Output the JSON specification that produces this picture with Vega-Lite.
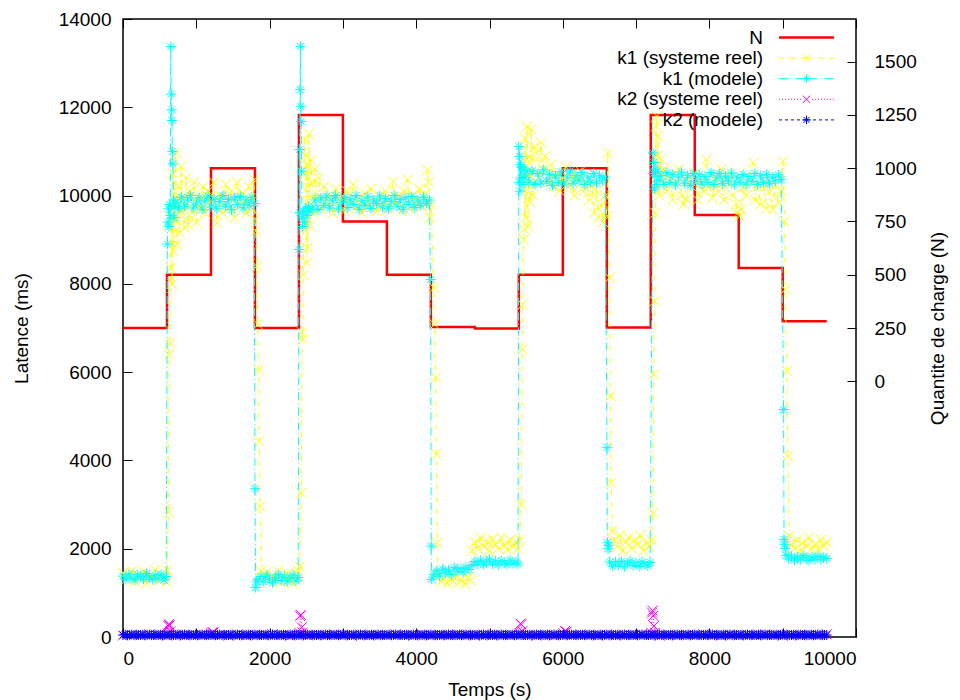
{
  "$schema": "https://vega.github.io/schema/vega-lite/v6.json",
  "width": 733,
  "height": 618,
  "autosize": {"type": "none"},
  "padding": {"left": 123, "top": 19, "right": 104, "bottom": 63},
  "background": "white",
  "config": {
    "font": "Liberation Sans",
    "view": {"stroke": "#000", "strokeWidth": 1.5},
    "axis": {
      "labelFont": "Liberation Sans", "labelFontSize": 19, "labelColor": "#000",
      "titleFont": "Liberation Sans", "titleFontSize": 19, "titleFontWeight": "normal", "titleColor": "#000",
      "grid": false, "domain": false, "tickColor": "#000", "tickSize": -9, "tickWidth": 1, "labelPadding": 21
    }
  },
  "datasets": {
    "N": [{"t":0,"v":250},{"t":600,"v":500},{"t":1200,"v":1000},{"t":1800,"v":250},{"t":2400,"v":1250},{"t":3000,"v":750},{"t":3600,"v":500},{"t":4200,"v":255},{"t":4800,"v":248},{"t":5400,"v":500},{"t":6000,"v":1000},{"t":6600,"v":252},{"t":7200,"v":1250},{"t":7800,"v":780},{"t":8400,"v":532},{"t":9000,"v":282},{"t":9600,"v":282}],
    "k1r": [{"t":0,"v":1450},{"t":40,"v":1300},{"t":80,"v":1380},{"t":120,"v":1500},{"t":160,"v":1250},{"t":200,"v":1400},{"t":240,"v":1330},{"t":280,"v":1480},{"t":320,"v":1220},{"t":360,"v":1390},{"t":400,"v":1350},{"t":440,"v":1520},{"t":480,"v":1280},{"t":520,"v":1420},{"t":560,"v":1360},{"t":590,"v":1240},{"t":605,"v":1500},{"t":620,"v":2830},{"t":630,"v":6400},{"t":640,"v":6650},{"t":650,"v":8360},{"t":660,"v":9500},{"t":670,"v":8000},{"t":680,"v":10500},{"t":690,"v":8740},{"t":700,"v":9800},{"t":720,"v":10970},{"t":735,"v":8900},{"t":750,"v":10200},{"t":772,"v":9155},{"t":790,"v":10660},{"t":810,"v":9600},{"t":840,"v":9270},{"t":860,"v":10400},{"t":886,"v":9340},{"t":910,"v":10100},{"t":940,"v":9500},{"t":970,"v":10300},{"t":1000,"v":9390},{"t":1030,"v":10000},{"t":1060,"v":9700},{"t":1090,"v":10200},{"t":1120,"v":9600},{"t":1160,"v":10100},{"t":1200,"v":9800},{"t":1240,"v":10300},{"t":1280,"v":9380},{"t":1320,"v":10000},{"t":1360,"v":9600},{"t":1400,"v":10250},{"t":1440,"v":9700},{"t":1480,"v":10100},{"t":1520,"v":9500},{"t":1560,"v":10300},{"t":1600,"v":9800},{"t":1640,"v":10050},{"t":1680,"v":9600},{"t":1720,"v":10200},{"t":1760,"v":9700},{"t":1790,"v":10360},{"t":1800,"v":9460},{"t":1812,"v":9200},{"t":1825,"v":8400},{"t":1840,"v":7080},{"t":1850,"v":6045},{"t":1860,"v":4440},{"t":1870,"v":2966},{"t":1885,"v":1500},{"t":1920,"v":1350},{"t":1960,"v":1480},{"t":2000,"v":1260},{"t":2040,"v":1400},{"t":2080,"v":1320},{"t":2120,"v":1500},{"t":2160,"v":1230},{"t":2200,"v":1380},{"t":2240,"v":1440},{"t":2280,"v":1300},{"t":2320,"v":1210},{"t":2360,"v":1420},{"t":2390,"v":1500},{"t":2410,"v":1600},{"t":2432,"v":3270},{"t":2445,"v":6900},{"t":2452,"v":6740},{"t":2460,"v":8200},{"t":2470,"v":10500},{"t":2480,"v":11270},{"t":2490,"v":10900},{"t":2500,"v":8475},{"t":2510,"v":10700},{"t":2520,"v":8815},{"t":2535,"v":11400},{"t":2550,"v":9300},{"t":2565,"v":10800},{"t":2580,"v":10300},{"t":2600,"v":9600},{"t":2620,"v":10600},{"t":2640,"v":9900},{"t":2670,"v":10400},{"t":2700,"v":9700},{"t":2740,"v":10200},{"t":2780,"v":9800},{"t":2820,"v":10000},{"t":2860,"v":9600},{"t":2900,"v":10150},{"t":2940,"v":9750},{"t":2980,"v":9950},{"t":3020,"v":9650},{"t":3060,"v":10100},{"t":3100,"v":9800},{"t":3136,"v":10250},{"t":3180,"v":9700},{"t":3220,"v":9950},{"t":3260,"v":9610},{"t":3300,"v":10050},{"t":3340,"v":9750},{"t":3380,"v":10150},{"t":3420,"v":9800},{"t":3460,"v":9650},{"t":3500,"v":10000},{"t":3540,"v":9750},{"t":3580,"v":10100},{"t":3620,"v":9700},{"t":3682,"v":10320},{"t":3720,"v":9800},{"t":3760,"v":10000},{"t":3800,"v":9650},{"t":3840,"v":10100},{"t":3880,"v":10360},{"t":3920,"v":9700},{"t":3960,"v":10000},{"t":4000,"v":9800},{"t":4040,"v":10150},{"t":4080,"v":9750},{"t":4120,"v":10050},{"t":4155,"v":10580},{"t":4170,"v":10300},{"t":4185,"v":9500},{"t":4200,"v":9800},{"t":4242,"v":7910},{"t":4250,"v":7080},{"t":4265,"v":5873},{"t":4274,"v":4136},{"t":4285,"v":2137},{"t":4300,"v":1400},{"t":4340,"v":1250},{"t":4380,"v":1350},{"t":4420,"v":1220},{"t":4460,"v":1320},{"t":4500,"v":1260},{"t":4540,"v":1380},{"t":4580,"v":1240},{"t":4620,"v":1300},{"t":4660,"v":1200},{"t":4700,"v":1350},{"t":4740,"v":1280},{"t":4760,"v":1950},{"t":4800,"v":2150},{"t":4840,"v":2000},{"t":4880,"v":2250},{"t":4920,"v":2050},{"t":4960,"v":2180},{"t":5000,"v":1950},{"t":5040,"v":2220},{"t":5080,"v":2100},{"t":5120,"v":2000},{"t":5160,"v":2250},{"t":5200,"v":2080},{"t":5240,"v":1980},{"t":5280,"v":2200},{"t":5320,"v":2050},{"t":5360,"v":2150},{"t":5390,"v":2000},{"t":5410,"v":2200},{"t":5434,"v":3000},{"t":5447,"v":6514},{"t":5452,"v":7532},{"t":5465,"v":9004},{"t":5475,"v":9230},{"t":5485,"v":11300},{"t":5495,"v":9500},{"t":5510,"v":11560},{"t":5525,"v":9300},{"t":5540,"v":10880},{"t":5555,"v":9850},{"t":5570,"v":11500},{"t":5590,"v":10000},{"t":5610,"v":11100},{"t":5640,"v":10970},{"t":5670,"v":10400},{"t":5700,"v":11200},{"t":5730,"v":10600},{"t":5760,"v":10900},{"t":5800,"v":10300},{"t":5840,"v":10700},{"t":5880,"v":10200},{"t":5920,"v":10500},{"t":5960,"v":10100},{"t":6000,"v":10400},{"t":6040,"v":10650},{"t":6080,"v":10200},{"t":6120,"v":10450},{"t":6160,"v":10000},{"t":6200,"v":10350},{"t":6240,"v":10550},{"t":6280,"v":10100},{"t":6320,"v":10300},{"t":6360,"v":9900},{"t":6400,"v":10200},{"t":6430,"v":9600},{"t":6460,"v":10100},{"t":6490,"v":9500},{"t":6520,"v":9800},{"t":6550,"v":9400},{"t":6580,"v":10000},{"t":6600,"v":9530},{"t":6615,"v":10970},{"t":6638,"v":8137},{"t":6650,"v":5456},{"t":6661,"v":3496},{"t":6675,"v":2400},{"t":6700,"v":2200},{"t":6740,"v":2050},{"t":6780,"v":2300},{"t":6820,"v":1950},{"t":6860,"v":2150},{"t":6900,"v":2250},{"t":6940,"v":2000},{"t":6980,"v":2200},{"t":7020,"v":2100},{"t":7060,"v":2300},{"t":7100,"v":1950},{"t":7140,"v":2150},{"t":7180,"v":2050},{"t":7210,"v":2200},{"t":7229,"v":2816},{"t":7240,"v":5948},{"t":7252,"v":7607},{"t":7262,"v":9608},{"t":7270,"v":11570},{"t":7280,"v":11800},{"t":7290,"v":10900},{"t":7300,"v":11340},{"t":7315,"v":10000},{"t":7330,"v":10820},{"t":7350,"v":10300},{"t":7380,"v":10600},{"t":7420,"v":10100},{"t":7460,"v":10450},{"t":7500,"v":9900},{"t":7540,"v":10300},{"t":7580,"v":10600},{"t":7620,"v":10000},{"t":7650,"v":9800},{"t":7685,"v":9910},{"t":7720,"v":10400},{"t":7760,"v":10200},{"t":7800,"v":10500},{"t":7840,"v":9900},{"t":7880,"v":10300},{"t":7920,"v":10100},{"t":7958,"v":10815},{"t":8000,"v":10200},{"t":8040,"v":9950},{"t":8080,"v":10400},{"t":8120,"v":10100},{"t":8160,"v":10600},{"t":8200,"v":9900},{"t":8240,"v":10300},{"t":8280,"v":10500},{"t":8320,"v":10000},{"t":8360,"v":9800},{"t":8390,"v":9600},{"t":8412,"v":9530},{"t":8430,"v":9700},{"t":8460,"v":10200},{"t":8500,"v":10000},{"t":8540,"v":10350},{"t":8593,"v":10740},{"t":8620,"v":9900},{"t":8660,"v":10200},{"t":8700,"v":9800},{"t":8740,"v":10300},{"t":8780,"v":9700},{"t":8820,"v":10100},{"t":8866,"v":9683},{"t":8900,"v":10250},{"t":8940,"v":9850},{"t":8980,"v":10100},{"t":9003,"v":10776},{"t":9026,"v":9418},{"t":9035,"v":7872},{"t":9057,"v":6022},{"t":9071,"v":4098},{"t":9090,"v":2287},{"t":9120,"v":2100},{"t":9160,"v":2000},{"t":9200,"v":2200},{"t":9240,"v":1950},{"t":9280,"v":2150},{"t":9320,"v":2050},{"t":9360,"v":2250},{"t":9400,"v":2000},{"t":9440,"v":2100},{"t":9480,"v":1980},{"t":9520,"v":2200},{"t":9560,"v":2050},{"t":9600,"v":2150}],
    "k1m": [{"t":0,"v":1380},{"t":40,"v":1300},{"t":80,"v":1420},{"t":120,"v":1340},{"t":160,"v":1290},{"t":200,"v":1410},{"t":240,"v":1370},{"t":280,"v":1310},{"t":320,"v":1440},{"t":360,"v":1350},{"t":400,"v":1300},{"t":440,"v":1400},{"t":480,"v":1330},{"t":520,"v":1420},{"t":560,"v":1290},{"t":590,"v":1370},{"t":605,"v":8900},{"t":612,"v":9400},{"t":620,"v":9700},{"t":628,"v":9300},{"t":636,"v":9800},{"t":645,"v":9550},{"t":652,"v":13375},{"t":658,"v":12300},{"t":663,"v":11940},{"t":668,"v":11700},{"t":673,"v":11000},{"t":680,"v":10720},{"t":688,"v":9900},{"t":697,"v":9500},{"t":710,"v":9750},{"t":720,"v":9850},{"t":760,"v":9700},{"t":800,"v":9960},{"t":840,"v":9760},{"t":880,"v":9900},{"t":920,"v":10000},{"t":960,"v":9720},{"t":1000,"v":9830},{"t":1040,"v":9950},{"t":1080,"v":9690},{"t":1120,"v":9880},{"t":1160,"v":9990},{"t":1200,"v":9740},{"t":1240,"v":9920},{"t":1280,"v":9700},{"t":1320,"v":9860},{"t":1360,"v":10000},{"t":1400,"v":9760},{"t":1440,"v":9910},{"t":1480,"v":9680},{"t":1520,"v":9950},{"t":1560,"v":9800},{"t":1600,"v":9980},{"t":1640,"v":9720},{"t":1680,"v":9900},{"t":1720,"v":9780},{"t":1760,"v":9960},{"t":1790,"v":9820},{"t":1800,"v":3360},{"t":1810,"v":1118},{"t":1825,"v":1250},{"t":1840,"v":1300},{"t":1880,"v":1370},{"t":1920,"v":1250},{"t":1960,"v":1400},{"t":2000,"v":1310},{"t":2040,"v":1230},{"t":2080,"v":1350},{"t":2120,"v":1410},{"t":2160,"v":1280},{"t":2200,"v":1380},{"t":2240,"v":1250},{"t":2280,"v":1340},{"t":2320,"v":1400},{"t":2360,"v":1270},{"t":2390,"v":1350},{"t":2400,"v":8780},{"t":2405,"v":11040},{"t":2410,"v":9610},{"t":2415,"v":12400},{"t":2420,"v":13380},{"t":2425,"v":12020},{"t":2430,"v":11680},{"t":2436,"v":10550},{"t":2442,"v":9500},{"t":2450,"v":9300},{"t":2460,"v":9650},{"t":2475,"v":9400},{"t":2490,"v":9700},{"t":2510,"v":9550},{"t":2530,"v":9750},{"t":2550,"v":9650},{"t":2580,"v":9700},{"t":2620,"v":9900},{"t":2660,"v":9680},{"t":2700,"v":9950},{"t":2740,"v":9780},{"t":2780,"v":9990},{"t":2820,"v":9720},{"t":2860,"v":9880},{"t":2900,"v":10000},{"t":2940,"v":9700},{"t":2980,"v":9850},{"t":3020,"v":9960},{"t":3060,"v":9730},{"t":3100,"v":9920},{"t":3140,"v":9800},{"t":3180,"v":10000},{"t":3220,"v":9690},{"t":3260,"v":9880},{"t":3300,"v":9780},{"t":3340,"v":9970},{"t":3380,"v":9710},{"t":3420,"v":9900},{"t":3460,"v":9820},{"t":3500,"v":9990},{"t":3540,"v":9740},{"t":3580,"v":9930},{"t":3620,"v":9700},{"t":3660,"v":9870},{"t":3700,"v":10000},{"t":3740,"v":9760},{"t":3780,"v":9910},{"t":3820,"v":9690},{"t":3860,"v":9950},{"t":3900,"v":9800},{"t":3940,"v":9980},{"t":3980,"v":9730},{"t":4020,"v":9900},{"t":4060,"v":9780},{"t":4100,"v":9960},{"t":4140,"v":9820},{"t":4180,"v":9900},{"t":4195,"v":8100},{"t":4205,"v":2060},{"t":4212,"v":1306},{"t":4240,"v":1420},{"t":4280,"v":1500},{"t":4320,"v":1380},{"t":4360,"v":1540},{"t":4400,"v":1450},{"t":4440,"v":1520},{"t":4480,"v":1410},{"t":4520,"v":1570},{"t":4560,"v":1490},{"t":4600,"v":1550},{"t":4640,"v":1470},{"t":4680,"v":1580},{"t":4720,"v":1530},{"t":4760,"v":1620},{"t":4800,"v":1710},{"t":4840,"v":1650},{"t":4880,"v":1740},{"t":4920,"v":1640},{"t":4960,"v":1700},{"t":5000,"v":1760},{"t":5040,"v":1650},{"t":5080,"v":1720},{"t":5120,"v":1630},{"t":5160,"v":1730},{"t":5200,"v":1680},{"t":5240,"v":1640},{"t":5280,"v":1740},{"t":5320,"v":1660},{"t":5360,"v":1700},{"t":5390,"v":1650},{"t":5400,"v":11110},{"t":5405,"v":10300},{"t":5410,"v":10890},{"t":5415,"v":10100},{"t":5422,"v":10700},{"t":5430,"v":10400},{"t":5440,"v":10650},{"t":5455,"v":10250},{"t":5470,"v":10600},{"t":5490,"v":10400},{"t":5510,"v":10550},{"t":5540,"v":10300},{"t":5580,"v":10560},{"t":5620,"v":10250},{"t":5660,"v":10500},{"t":5700,"v":10280},{"t":5740,"v":10580},{"t":5780,"v":10320},{"t":5820,"v":10480},{"t":5860,"v":10230},{"t":5900,"v":10450},{"t":5940,"v":10300},{"t":5980,"v":10540},{"t":6020,"v":10260},{"t":6060,"v":10420},{"t":6100,"v":10560},{"t":6140,"v":10280},{"t":6180,"v":10450},{"t":6220,"v":10330},{"t":6260,"v":10520},{"t":6300,"v":10250},{"t":6340,"v":10420},{"t":6380,"v":10300},{"t":6420,"v":10500},{"t":6460,"v":10280},{"t":6500,"v":10450},{"t":6540,"v":10330},{"t":6580,"v":10420},{"t":6602,"v":4290},{"t":6608,"v":2137},{"t":6615,"v":2000},{"t":6625,"v":2080},{"t":6640,"v":1700},{"t":6680,"v":1600},{"t":6720,"v":1700},{"t":6760,"v":1630},{"t":6800,"v":1710},{"t":6840,"v":1590},{"t":6880,"v":1670},{"t":6920,"v":1720},{"t":6960,"v":1620},{"t":7000,"v":1680},{"t":7040,"v":1600},{"t":7080,"v":1700},{"t":7120,"v":1650},{"t":7160,"v":1610},{"t":7190,"v":1690},{"t":7229,"v":10967},{"t":7235,"v":10500},{"t":7242,"v":10750},{"t":7250,"v":10150},{"t":7260,"v":10600},{"t":7275,"v":10250},{"t":7290,"v":10550},{"t":7310,"v":10350},{"t":7340,"v":10450},{"t":7380,"v":10250},{"t":7420,"v":10520},{"t":7460,"v":10300},{"t":7500,"v":10480},{"t":7540,"v":10240},{"t":7580,"v":10420},{"t":7620,"v":10530},{"t":7660,"v":10280},{"t":7700,"v":10450},{"t":7740,"v":10230},{"t":7780,"v":10500},{"t":7820,"v":10320},{"t":7860,"v":10470},{"t":7900,"v":10260},{"t":7940,"v":10430},{"t":7980,"v":10300},{"t":8020,"v":10520},{"t":8060,"v":10250},{"t":8100,"v":10400},{"t":8140,"v":10500},{"t":8180,"v":10270},{"t":8220,"v":10440},{"t":8260,"v":10330},{"t":8300,"v":10510},{"t":8340,"v":10240},{"t":8380,"v":10420},{"t":8420,"v":10300},{"t":8460,"v":10480},{"t":8500,"v":10260},{"t":8540,"v":10430},{"t":8580,"v":10320},{"t":8620,"v":10500},{"t":8660,"v":10250},{"t":8700,"v":10450},{"t":8740,"v":10300},{"t":8780,"v":10480},{"t":8820,"v":10270},{"t":8860,"v":10420},{"t":8900,"v":10330},{"t":8940,"v":10470},{"t":8980,"v":10360},{"t":9012,"v":5155},{"t":9018,"v":2212},{"t":9025,"v":2100},{"t":9035,"v":2000},{"t":9045,"v":1850},{"t":9080,"v":1770},{"t":9120,"v":1830},{"t":9160,"v":1740},{"t":9200,"v":1810},{"t":9240,"v":1750},{"t":9280,"v":1840},{"t":9320,"v":1790},{"t":9360,"v":1730},{"t":9400,"v":1820},{"t":9440,"v":1760},{"t":9480,"v":1830},{"t":9520,"v":1750},{"t":9560,"v":1810},{"t":9600,"v":1780}],
    "k2r": [{"t":0,"v":35},{"t":120,"v":50},{"t":240,"v":40},{"t":360,"v":60},{"t":480,"v":45},{"t":600,"v":30},{"t":610,"v":80},{"t":618,"v":250},{"t":626,"v":290},{"t":634,"v":260},{"t":645,"v":130},{"t":720,"v":55},{"t":840,"v":35},{"t":960,"v":50},{"t":1080,"v":40},{"t":1200,"v":60},{"t":1210,"v":85},{"t":1222,"v":110},{"t":1234,"v":100},{"t":1320,"v":45},{"t":1440,"v":30},{"t":1560,"v":55},{"t":1680,"v":35},{"t":1800,"v":50},{"t":1920,"v":40},{"t":2040,"v":60},{"t":2160,"v":45},{"t":2280,"v":30},{"t":2400,"v":55},{"t":2410,"v":90},{"t":2418,"v":475},{"t":2426,"v":500},{"t":2438,"v":220},{"t":2450,"v":100},{"t":2520,"v":35},{"t":2640,"v":50},{"t":2760,"v":40},{"t":2880,"v":60},{"t":3000,"v":45},{"t":3120,"v":30},{"t":3240,"v":55},{"t":3360,"v":35},{"t":3480,"v":50},{"t":3600,"v":40},{"t":3720,"v":60},{"t":3840,"v":45},{"t":3960,"v":30},{"t":4080,"v":55},{"t":4200,"v":35},{"t":4320,"v":50},{"t":4440,"v":40},{"t":4560,"v":60},{"t":4680,"v":45},{"t":4800,"v":30},{"t":4920,"v":55},{"t":5040,"v":35},{"t":5160,"v":50},{"t":5280,"v":40},{"t":5400,"v":60},{"t":5410,"v":90},{"t":5422,"v":300},{"t":5434,"v":288},{"t":5446,"v":130},{"t":5520,"v":45},{"t":5640,"v":30},{"t":5760,"v":55},{"t":5880,"v":35},{"t":6000,"v":50},{"t":6010,"v":80},{"t":6030,"v":136},{"t":6050,"v":120},{"t":6120,"v":40},{"t":6240,"v":60},{"t":6360,"v":45},{"t":6480,"v":30},{"t":6600,"v":55},{"t":6720,"v":35},{"t":6840,"v":50},{"t":6960,"v":40},{"t":7080,"v":60},{"t":7200,"v":45},{"t":7210,"v":90},{"t":7218,"v":552},{"t":7226,"v":600},{"t":7234,"v":480},{"t":7244,"v":250},{"t":7256,"v":100},{"t":7320,"v":30},{"t":7440,"v":55},{"t":7560,"v":35},{"t":7680,"v":50},{"t":7800,"v":40},{"t":7920,"v":60},{"t":8040,"v":45},{"t":8160,"v":30},{"t":8280,"v":55},{"t":8400,"v":35},{"t":8520,"v":50},{"t":8640,"v":40},{"t":8760,"v":60},{"t":8880,"v":45},{"t":9000,"v":30},{"t":9120,"v":55},{"t":9240,"v":35},{"t":9360,"v":50},{"t":9480,"v":40},{"t":9600,"v":60}],
    "k2m": [{"t":0,"v":45},{"t":30,"v":52},{"t":60,"v":40},{"t":90,"v":48},{"t":120,"v":55},{"t":150,"v":43},{"t":180,"v":50},{"t":210,"v":46},{"t":240,"v":45},{"t":270,"v":52},{"t":300,"v":40},{"t":330,"v":48},{"t":360,"v":55},{"t":390,"v":43},{"t":420,"v":50},{"t":450,"v":46},{"t":480,"v":45},{"t":510,"v":52},{"t":540,"v":40},{"t":570,"v":48},{"t":600,"v":55},{"t":630,"v":43},{"t":660,"v":50},{"t":690,"v":46},{"t":720,"v":45},{"t":750,"v":52},{"t":780,"v":40},{"t":810,"v":48},{"t":840,"v":55},{"t":870,"v":43},{"t":900,"v":50},{"t":930,"v":46},{"t":960,"v":45},{"t":990,"v":52},{"t":1020,"v":40},{"t":1050,"v":48},{"t":1080,"v":55},{"t":1110,"v":43},{"t":1140,"v":50},{"t":1170,"v":46},{"t":1200,"v":45},{"t":1230,"v":52},{"t":1260,"v":40},{"t":1290,"v":48},{"t":1320,"v":55},{"t":1350,"v":43},{"t":1380,"v":50},{"t":1410,"v":46},{"t":1440,"v":45},{"t":1470,"v":52},{"t":1500,"v":40},{"t":1530,"v":48},{"t":1560,"v":55},{"t":1590,"v":43},{"t":1620,"v":50},{"t":1650,"v":46},{"t":1680,"v":45},{"t":1710,"v":52},{"t":1740,"v":40},{"t":1770,"v":48},{"t":1800,"v":55},{"t":1830,"v":43},{"t":1860,"v":50},{"t":1890,"v":46},{"t":1920,"v":45},{"t":1950,"v":52},{"t":1980,"v":40},{"t":2010,"v":48},{"t":2040,"v":55},{"t":2070,"v":43},{"t":2100,"v":50},{"t":2130,"v":46},{"t":2160,"v":45},{"t":2190,"v":52},{"t":2220,"v":40},{"t":2250,"v":48},{"t":2280,"v":55},{"t":2310,"v":43},{"t":2340,"v":50},{"t":2370,"v":46},{"t":2400,"v":45},{"t":2430,"v":52},{"t":2460,"v":40},{"t":2490,"v":48},{"t":2520,"v":55},{"t":2550,"v":43},{"t":2580,"v":50},{"t":2610,"v":46},{"t":2640,"v":45},{"t":2670,"v":52},{"t":2700,"v":40},{"t":2730,"v":48},{"t":2760,"v":55},{"t":2790,"v":43},{"t":2820,"v":50},{"t":2850,"v":46},{"t":2880,"v":45},{"t":2910,"v":52},{"t":2940,"v":40},{"t":2970,"v":48},{"t":3000,"v":55},{"t":3030,"v":43},{"t":3060,"v":50},{"t":3090,"v":46},{"t":3120,"v":45},{"t":3150,"v":52},{"t":3180,"v":40},{"t":3210,"v":48},{"t":3240,"v":55},{"t":3270,"v":43},{"t":3300,"v":50},{"t":3330,"v":46},{"t":3360,"v":45},{"t":3390,"v":52},{"t":3420,"v":40},{"t":3450,"v":48},{"t":3480,"v":55},{"t":3510,"v":43},{"t":3540,"v":50},{"t":3570,"v":46},{"t":3600,"v":45},{"t":3630,"v":52},{"t":3660,"v":40},{"t":3690,"v":48},{"t":3720,"v":55},{"t":3750,"v":43},{"t":3780,"v":50},{"t":3810,"v":46},{"t":3840,"v":45},{"t":3870,"v":52},{"t":3900,"v":40},{"t":3930,"v":48},{"t":3960,"v":55},{"t":3990,"v":43},{"t":4020,"v":50},{"t":4050,"v":46},{"t":4080,"v":45},{"t":4110,"v":52},{"t":4140,"v":40},{"t":4170,"v":48},{"t":4200,"v":55},{"t":4230,"v":43},{"t":4260,"v":50},{"t":4290,"v":46},{"t":4320,"v":45},{"t":4350,"v":52},{"t":4380,"v":40},{"t":4410,"v":48},{"t":4440,"v":55},{"t":4470,"v":43},{"t":4500,"v":50},{"t":4530,"v":46},{"t":4560,"v":45},{"t":4590,"v":52},{"t":4620,"v":40},{"t":4650,"v":48},{"t":4680,"v":55},{"t":4710,"v":43},{"t":4740,"v":50},{"t":4770,"v":46},{"t":4800,"v":45},{"t":4830,"v":52},{"t":4860,"v":40},{"t":4890,"v":48},{"t":4920,"v":55},{"t":4950,"v":43},{"t":4980,"v":50},{"t":5010,"v":46},{"t":5040,"v":45},{"t":5070,"v":52},{"t":5100,"v":40},{"t":5130,"v":48},{"t":5160,"v":55},{"t":5190,"v":43},{"t":5220,"v":50},{"t":5250,"v":46},{"t":5280,"v":45},{"t":5310,"v":52},{"t":5340,"v":40},{"t":5370,"v":48},{"t":5400,"v":55},{"t":5430,"v":43},{"t":5460,"v":50},{"t":5490,"v":46},{"t":5520,"v":45},{"t":5550,"v":52},{"t":5580,"v":40},{"t":5610,"v":48},{"t":5640,"v":55},{"t":5670,"v":43},{"t":5700,"v":50},{"t":5730,"v":46},{"t":5760,"v":45},{"t":5790,"v":52},{"t":5820,"v":40},{"t":5850,"v":48},{"t":5880,"v":55},{"t":5910,"v":43},{"t":5940,"v":50},{"t":5970,"v":46},{"t":6000,"v":45},{"t":6030,"v":52},{"t":6060,"v":40},{"t":6090,"v":48},{"t":6120,"v":55},{"t":6150,"v":43},{"t":6180,"v":50},{"t":6210,"v":46},{"t":6240,"v":45},{"t":6270,"v":52},{"t":6300,"v":40},{"t":6330,"v":48},{"t":6360,"v":55},{"t":6390,"v":43},{"t":6420,"v":50},{"t":6450,"v":46},{"t":6480,"v":45},{"t":6510,"v":52},{"t":6540,"v":40},{"t":6570,"v":48},{"t":6600,"v":55},{"t":6630,"v":43},{"t":6660,"v":50},{"t":6690,"v":46},{"t":6720,"v":45},{"t":6750,"v":52},{"t":6780,"v":40},{"t":6810,"v":48},{"t":6840,"v":55},{"t":6870,"v":43},{"t":6900,"v":50},{"t":6930,"v":46},{"t":6960,"v":45},{"t":6990,"v":52},{"t":7020,"v":40},{"t":7050,"v":48},{"t":7080,"v":55},{"t":7110,"v":43},{"t":7140,"v":50},{"t":7170,"v":46},{"t":7200,"v":45},{"t":7230,"v":52},{"t":7260,"v":40},{"t":7290,"v":48},{"t":7320,"v":55},{"t":7350,"v":43},{"t":7380,"v":50},{"t":7410,"v":46},{"t":7440,"v":45},{"t":7470,"v":52},{"t":7500,"v":40},{"t":7530,"v":48},{"t":7560,"v":55},{"t":7590,"v":43},{"t":7620,"v":50},{"t":7650,"v":46},{"t":7680,"v":45},{"t":7710,"v":52},{"t":7740,"v":40},{"t":7770,"v":48},{"t":7800,"v":55},{"t":7830,"v":43},{"t":7860,"v":50},{"t":7890,"v":46},{"t":7920,"v":45},{"t":7950,"v":52},{"t":7980,"v":40},{"t":8010,"v":48},{"t":8040,"v":55},{"t":8070,"v":43},{"t":8100,"v":50},{"t":8130,"v":46},{"t":8160,"v":45},{"t":8190,"v":52},{"t":8220,"v":40},{"t":8250,"v":48},{"t":8280,"v":55},{"t":8310,"v":43},{"t":8340,"v":50},{"t":8370,"v":46},{"t":8400,"v":45},{"t":8430,"v":52},{"t":8460,"v":40},{"t":8490,"v":48},{"t":8520,"v":55},{"t":8550,"v":43},{"t":8580,"v":50},{"t":8610,"v":46},{"t":8640,"v":45},{"t":8670,"v":52},{"t":8700,"v":40},{"t":8730,"v":48},{"t":8760,"v":55},{"t":8790,"v":43},{"t":8820,"v":50},{"t":8850,"v":46},{"t":8880,"v":45},{"t":8910,"v":52},{"t":8940,"v":40},{"t":8970,"v":48},{"t":9000,"v":55},{"t":9030,"v":43},{"t":9060,"v":50},{"t":9090,"v":46},{"t":9120,"v":45},{"t":9150,"v":52},{"t":9180,"v":40},{"t":9210,"v":48},{"t":9240,"v":55},{"t":9270,"v":43},{"t":9300,"v":50},{"t":9330,"v":46},{"t":9360,"v":45},{"t":9390,"v":52},{"t":9420,"v":40},{"t":9450,"v":48},{"t":9480,"v":55},{"t":9510,"v":43},{"t":9540,"v":50},{"t":9570,"v":46},{"t":9600,"v":45}]
  },
  "resolve": {"scale": {"y": "independent"}, "axis": {"x": "independent"}},
  "layer": [
    {
      "data": {"name": "N"},
      "mark": {"type": "line", "interpolate": "step-after", "strokeWidth": 2.5},
      "encoding": {
        "x": {"field": "t", "type": "quantitative", "scale": {"domain": [0, 10000], "nice": false, "zero": false},
              "axis": {"orient": "top", "values": [0,1000,2000,3000,4000,5000,6000,7000,8000,9000,10000], "labels": false, "title": null}},
        "y": {"field": "v", "type": "quantitative", "scale": {"domain": [-1200, 1700], "nice": false, "zero": false},
              "axis": {"orient": "right", "values": [0,250,500,750,1000,1250,1500], "format": "d", "title": "Quantite de charge (N)", "labelPadding": 27, "titleAngle": 270, "titleBaseline": "top", "titlePadding": 12}},
        "color": {
          "datum": "N", "type": "nominal",
          "scale": {"domain": ["N","k1 (systeme reel)","k1 (modele)","k2 (systeme reel)","k2 (modele)"], "range": ["#ff0000","#ffff00","#00ffff","#ff00ff","#0000ff"]},
          "legend": {
            "orient": "none", "legendX": 674, "legendY": 9, "title": null, "padding": 0,
            "labelFont": "Liberation Sans", "labelFontSize": 19, "labelColor": "#000", "labelAlign": "right", "labelOffset": -53, "labelLimit": 400,
            "symbolSize": 100, "rowPadding": 0.6,
            "encode": {
              "symbols": {
                "update": {
                  "shape": {"signal": "datum.value === 'N' ? 'M-5.5,0L5.5,0' : datum.value === 'k1 (systeme reel)' ? 'M-5.5,0L-4.5,0M-4,0L-3.8,0M-3.3,0L-2.3,0M-1.8,0L-1.6,0M-1.1,0L1.1,0M1.6,0L1.8,0M2.3,0L3.3,0M3.8,0L4,0M4.5,0L5.5,0M-0.75,-0.75L0.75,0.75M-0.75,0.75L0.75,-0.75' : datum.value === 'k1 (modele)' ? 'M-5.5,0L-3.6,0M-3,0L-2.8,0M-2.2,0L2.2,0M2.8,0L3,0M3.6,0L5.5,0M-0.85,0L0.85,0M0,-0.85L0,0.85M-0.6,-0.6L0.6,0.6M-0.6,0.6L0.6,-0.6' : datum.value === 'k2 (systeme reel)' ? 'M-5.5,0L-5.3,0M-4.9,0L-4.7,0M-4.3,0L-4.1,0M-3.7,0L-3.5,0M-3.1,0L-2.9,0M-2.5,0L-2.3,0M-1.9,0L-1.7,0M-1.3,0L-1.1,0M1.1,0L1.3,0M1.7,0L1.9,0M2.3,0L2.5,0M2.9,0L3.1,0M3.5,0L3.7,0M4.1,0L4.3,0M4.7,0L4.9,0M5.3,0L5.5,0M-0.75,-0.75L0.75,0.75M-0.75,0.75L0.75,-0.75' : 'M-5.5,0L-4.9,0M-4.3,0L-3.7,0M-3.1,0L-2.5,0M-1.9,0L-1.3,0M-0.7,0L0.7,0M1.3,0L1.9,0M2.5,0L3.1,0M3.7,0L4.3,0M4.9,0L5.5,0M-0.85,0L0.85,0M0,-0.85L0,0.85M-0.6,-0.6L0.6,0.6M-0.6,0.6L0.6,-0.6'"},
                  "strokeWidth": {"signal": "datum.value === 'N' ? 2.5 : 1"},
                  "strokeDash": {"value": []},
                  "fill": {"value": "transparent"},
                  "fillOpacity": {"value": 0},
                  "stroke": {"scale": "color", "field": "value"},
                  "strokeOpacity": {"value": 1},
                  "opacity": {"value": 1},
                  "size": {"value": 100}
                }
              }
            }
          }
        }
      }
    },
    {
      "encoding": {
        "x": {"field": "t", "type": "quantitative",
              "axis": {"orient": "bottom", "values": [0,1000,2000,3000,4000,5000,6000,7000,8000,9000,10000], "format": "d", "title": "Temps (s)", "titlePadding": 12}},
        "y": {"field": "v", "type": "quantitative", "scale": {"domain": [0, 14000], "nice": false},
              "axis": {"orient": "left", "values": [0,2000,4000,6000,8000,10000,12000,14000], "format": "d", "title": "Latence (ms)", "titlePadding": 27}}
      },
      "layer": [
        {"data": {"name": "k1r"}, "mark": {"type": "line", "strokeWidth": 1, "strokeDash": [5,3,1,3]}, "encoding": {"color": {"datum": "k1 (systeme reel)", "type": "nominal"}}},
        {"data": {"name": "k1r"}, "mark": {"type": "point", "filled": false, "strokeWidth": 1, "size": 100, "opacity": 1, "shape": "M-1,-1L1,1M-1,1L1,-1"}, "encoding": {"color": {"datum": "k1 (systeme reel)", "type": "nominal"}}},
        {"data": {"name": "k1m"}, "mark": {"type": "line", "strokeWidth": 1, "strokeDash": [8,3,1,3]}, "encoding": {"color": {"datum": "k1 (modele)", "type": "nominal"}}},
        {"data": {"name": "k1m"}, "mark": {"type": "point", "filled": false, "strokeWidth": 1, "size": 100, "opacity": 1, "shape": "M-1,0L1,0M0,-1L0,1M-0.7,-0.7L0.7,0.7M-0.7,0.7L0.7,-0.7"}, "encoding": {"color": {"datum": "k1 (modele)", "type": "nominal"}}},
        {"data": {"name": "k2r"}, "mark": {"type": "line", "strokeWidth": 1, "strokeDash": [1,2]}, "encoding": {"color": {"datum": "k2 (systeme reel)", "type": "nominal"}}},
        {"data": {"name": "k2r"}, "mark": {"type": "point", "filled": false, "strokeWidth": 1, "size": 100, "opacity": 1, "shape": "M-1,-1L1,1M-1,1L1,-1"}, "encoding": {"color": {"datum": "k2 (systeme reel)", "type": "nominal"}}},
        {"data": {"name": "k2m"}, "mark": {"type": "line", "strokeWidth": 1, "strokeDash": [3,4]}, "encoding": {"color": {"datum": "k2 (modele)", "type": "nominal"}}},
        {"data": {"name": "k2m"}, "mark": {"type": "point", "filled": false, "strokeWidth": 1, "size": 100, "opacity": 1, "shape": "M-1,0L1,0M0,-1L0,1M-0.7,-0.7L0.7,0.7M-0.7,0.7L0.7,-0.7"}, "encoding": {"color": {"datum": "k2 (modele)", "type": "nominal"}}}
      ]
    }
  ]
}
